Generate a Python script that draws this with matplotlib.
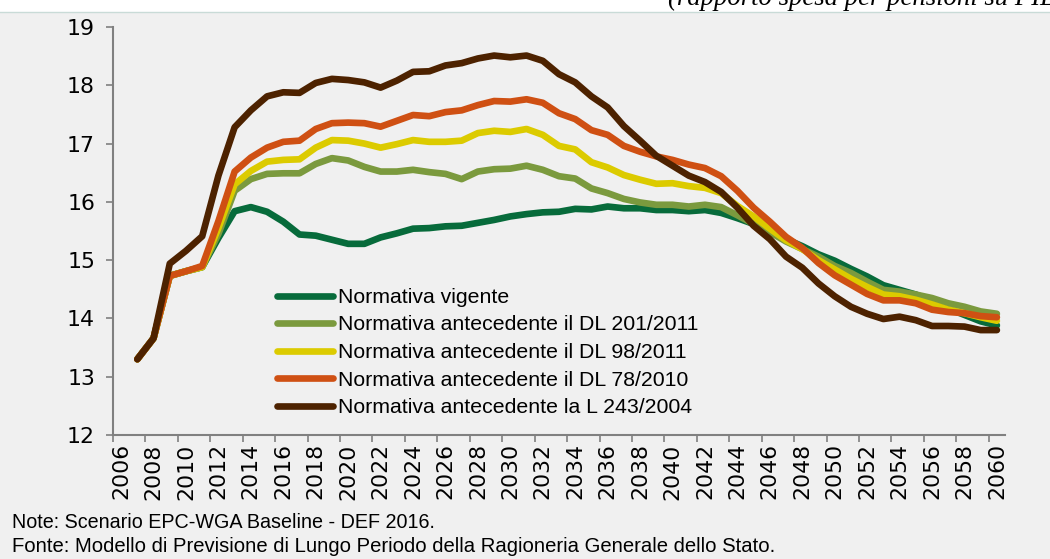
import matplotlib
matplotlib.use("Agg")
import matplotlib.pyplot as plt
from matplotlib.patches import Rectangle
from matplotlib.ticker import FixedLocator, NullFormatter

# spesa per pensioni in rapporto al PIL, 2007-2060
years = list(range(2007, 2061))

vigente = [13.30, 13.66, 14.73, 14.81, 14.88, 15.38, 15.84, 15.91, 15.83, 15.66,
           15.44, 15.42, 15.35, 15.28, 15.28, 15.39, 15.46, 15.54, 15.55, 15.58,
           15.59, 15.64, 15.69, 15.75, 15.79, 15.82, 15.83, 15.88, 15.87, 15.92,
           15.89, 15.89, 15.86, 15.86, 15.84, 15.86, 15.81, 15.72, 15.62, 15.51,
           15.36, 15.24, 15.10, 14.99, 14.85, 14.72, 14.57, 14.49, 14.41, 14.30,
           14.17, 14.06, 13.95, 13.88]
dl_201_2011 = [13.30, 13.66, 14.73, 14.81, 14.88, 15.45, 16.19, 16.39, 16.48, 16.49,
               16.49, 16.65, 16.75, 16.71, 16.60, 16.52, 16.52, 16.55, 16.51, 16.48,
               16.39, 16.52, 16.56, 16.57, 16.62, 16.55, 16.44, 16.40, 16.23, 16.15,
               16.05, 15.99, 15.95, 15.95, 15.92, 15.95, 15.91, 15.77, 15.62, 15.48,
               15.32, 15.19, 15.06, 14.90, 14.78, 14.63, 14.49, 14.46, 14.41, 14.35,
               14.26, 14.20, 14.12, 14.08]
dl_98_2011 = [13.30, 13.66, 14.73, 14.81, 14.88, 15.55, 16.30, 16.53, 16.69, 16.72,
              16.73, 16.93, 17.06, 17.05, 17.00, 16.93, 16.99, 17.06, 17.03, 17.03,
              17.05, 17.18, 17.22, 17.20, 17.25, 17.15, 16.96, 16.90, 16.68, 16.59,
              16.46, 16.38, 16.31, 16.32, 16.27, 16.24, 16.15, 15.93, 15.75, 15.54,
              15.34, 15.19, 15.00, 14.84, 14.68, 14.54, 14.41, 14.38, 14.32, 14.24,
              14.15, 14.09, 14.02, 13.96]
dl_78_2010 = [13.30, 13.66, 14.73, 14.81, 14.90, 15.67, 16.52, 16.76, 16.93, 17.03,
              17.05, 17.25, 17.35, 17.36, 17.35, 17.29, 17.39, 17.49, 17.47, 17.54,
              17.57, 17.66, 17.73, 17.72, 17.76, 17.70, 17.52, 17.42, 17.23, 17.15,
              16.96, 16.86, 16.78, 16.72, 16.64, 16.58, 16.44, 16.19, 15.90, 15.66,
              15.40, 15.21, 14.95, 14.74, 14.58, 14.42, 14.31, 14.31, 14.26, 14.15,
              14.11, 14.09, 14.04, 14.02]
l_243_2004 = [13.30, 13.66, 14.94, 15.16, 15.41, 16.45, 17.28, 17.57, 17.81, 17.88,
              17.87, 18.04, 18.11, 18.09, 18.05, 17.96, 18.08, 18.23, 18.24, 18.34,
              18.38, 18.46, 18.51, 18.48, 18.51, 18.42, 18.19, 18.05, 17.81, 17.62,
              17.30, 17.05, 16.79, 16.62, 16.45, 16.34, 16.17, 15.90, 15.59, 15.36,
              15.06, 14.87, 14.60, 14.38, 14.20, 14.08, 13.99, 14.03, 13.97, 13.87,
              13.87, 13.86, 13.80, 13.80]

labels = ["Normativa vigente",
          "Normativa antecedente il DL 201/2011",
          "Normativa antecedente il DL 98/2011",
          "Normativa antecedente il DL 78/2010",
          "Normativa antecedente la L 243/2004"]
colors = ["#076b3b", "#7b9a3e", "#dccb00", "#cf5013", "#4d2200"]
series = [vigente, dl_201_2011, dl_98_2011, dl_78_2010, l_243_2004]

label_years = list(range(2006, 2061, 2))
y_ticks = list(range(12, 20))

W, H = 1050, 559
bg = "#f0f0f0"
axis_grey = "#808080"

fig = plt.figure(figsize=(W / 100, H / 100), dpi=100, facecolor=bg)

# header strip with the subtitle, cut off at the top as in the source page
fig.patches.append(Rectangle((0, 1 - 12 / H), 1, 12 / H, transform=fig.transFigure,
                             facecolor="white", edgecolor="none", zorder=0))
fig.add_artist(plt.Line2D([0, 1], [1 - 12 / H, 1 - 12 / H], transform=fig.transFigure,
                          color="#c9dbd7", lw=1))
fig.text(668 / W, 1 - 5 / H, "(rapporto spesa per pensioni su PIL)",
         family="Liberation Serif", style="italic", fontsize=19.3,
         ha="left", va="baseline")

ax = fig.add_axes([113 / W, 1 - 435 / H, (1005 - 113) / W, (435 - 27) / H])
ax.set_facecolor(bg)

for vals, lab, col in zip(series, labels, colors):
    ax.plot(years, vals, color=col, lw=4.8, label=lab,
            solid_capstyle="round", solid_joinstyle="round")

ax.set_xlim(2005.5, 2060.5)
ax.set_ylim(12, 19)

for side in ("top", "right"):
    ax.spines[side].set_visible(False)
for side in ("left", "bottom"):
    ax.spines[side].set_color(axis_grey)
    ax.spines[side].set_linewidth(1.5)

# ticks on category boundaries, labels centred on the even years
ax.xaxis.set_major_locator(FixedLocator([y - 0.5 for y in label_years]))
ax.xaxis.set_major_formatter(NullFormatter())
ax.set_xticks(label_years, [str(y) for y in label_years], minor=True)
ax.tick_params(axis="x", which="major", direction="out", length=5, width=1.2,
               color=axis_grey)
ax.tick_params(axis="x", which="minor", length=0, pad=6, rotation=90,
               labelsize=15.8)

ax.set_yticks(y_ticks)
ax.tick_params(axis="y", direction="out", length=5, width=1.2, color=axis_grey,
               pad=8, labelsize=15.8)
for t in ax.get_xticklabels(minor=True) + ax.get_yticklabels():
    t.set_family("DejaVu Sans")

ax.legend(loc="upper left", bbox_to_anchor=(277 / W, 1 - 288 / H),
          bbox_transform=fig.transFigure, frameon=False, borderpad=0,
          borderaxespad=0, handlelength=2.65, handletextpad=0.2,
          labelspacing=0.4, prop={"family": "Liberation Sans", "size": 15.3})

fig.text(12 / W, 1 - 522 / H, "Note: Scenario EPC-WGA Baseline - DEF 2016.",
         family="Liberation Sans", fontsize=14.2, ha="left", va="center")
fig.text(12 / W, 1 - 547 / H,
         "Fonte: Modello di Previsione di Lungo Periodo della Ragioneria "
         "Generale dello Stato.",
         family="Liberation Sans", fontsize=14.6, ha="left", va="center")

fig.savefig("out.png", dpi=100, facecolor=bg)
